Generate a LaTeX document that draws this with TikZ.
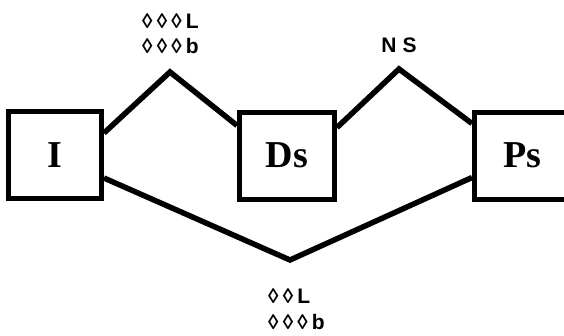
\documentclass[tikz,border=0pt]{standalone}
\usepackage{fontspec}
\setmainfont{Liberation Serif}
\newfontfamily\labelfont{Liberation Sans}
\begin{document}
\begin{tikzpicture}[x=1pt,y=-1pt,
  box/.style={draw,line width=5pt,minimum width=93pt,minimum height=87pt,
    inner sep=0pt,font=\fontsize{38}{38}\selectfont\bfseries},
  link/.style={line width=5.5pt,line join=miter},
  lab/.style={font=\labelfont\bfseries\fontsize{21}{21}\selectfont\addfontfeature{LetterSpace=20},inner sep=0pt}]
\useasboundingbox (0,0) rectangle (564,335);
% states
\node[box] (I) at (55,155) {I};
\node[box,minimum width=95pt] (Ds) at (287,155.5) {Ds};
\node[box,minimum width=95pt] (Ps) at (522,155.5) {Ps};
% barrier tops
\coordinate (pL) at (170,72);
\coordinate (pN) at (399,69);
\coordinate (pV) at (290,260);
% paths
\draw[link] ([yshift=22pt]I.east) -- (pL) -- ([yshift=30pt]Ds.west);
\draw[link] ([yshift=28pt]Ds.east) -- (pN) -- ([yshift=32pt]Ps.west);
\draw[link] ([yshift=-23pt]I.east) -- (pV) -- ([yshift=-22pt]Ps.west);
% labels
\node[lab,anchor=base west] (t1) at (142,28) {◊◊◊L};
\node[lab,anchor=base west] (t2) at (142,53) {◊◊◊b};
\node[lab,anchor=base] (ns) at (399,52) {\addfontfeature{LetterSpace=28}NS};
\node[lab,anchor=base west] (b1) at (268,303) {◊◊L};
\node[lab,anchor=base west] (b2) at (268,329) {◊◊◊b};
\end{tikzpicture}
\end{document}
